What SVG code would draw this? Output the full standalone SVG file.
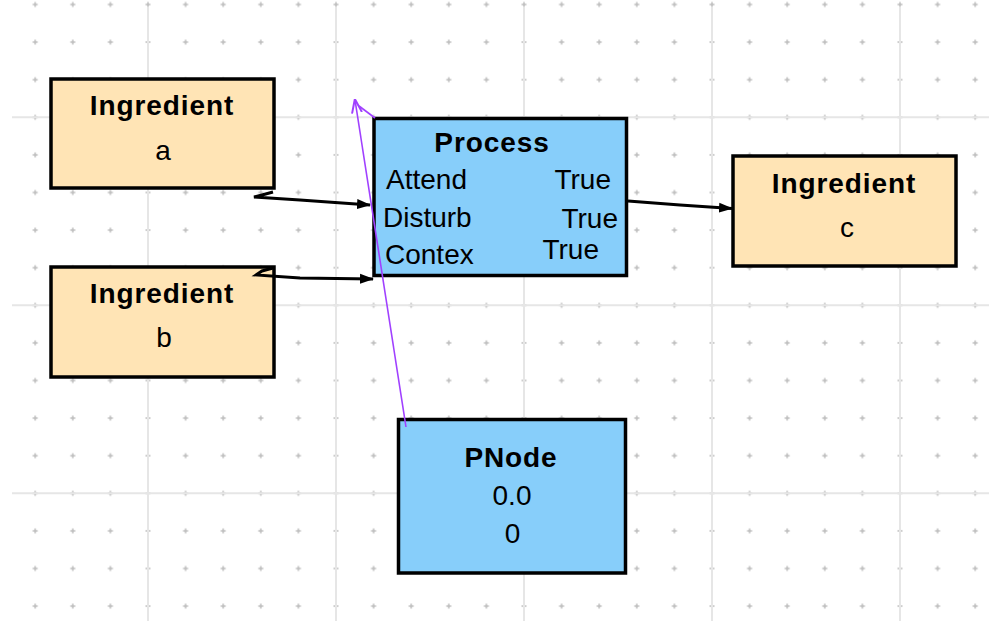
<svg xmlns="http://www.w3.org/2000/svg" width="989" height="621" viewBox="0 0 989 621">
<style>
.grid{stroke:#e6e6e6;stroke-width:2}
.ing rect{fill:#FFE4B5;stroke:#000;stroke-width:3.5}
.proc rect{fill:#87CEFA;stroke:#000;stroke-width:3.5}
text{font-family:"Liberation Sans",Arial,sans-serif;font-size:28px;fill:#000}
.b{font-weight:bold;letter-spacing:0.9px}
.c{text-anchor:middle}
.r{text-anchor:end}
.edge{stroke:#000;stroke-width:3;fill:none}
.pedge{stroke:#A040FF;stroke-width:1.6;fill:none}
</style>
<defs>
<pattern id="dots" patternUnits="userSpaceOnUse" x="35.2" y="4.5" width="37.6" height="37.6">
<path d="M-2.5 0H2.5M0 -2.5V2.5M35.1 0H40.1M37.6 -2.5V2.5M-2.5 37.6H2.5M0 35.1V40.1M35.1 37.6H40.1M37.6 35.1V40.1" stroke="#bdbdbd" stroke-width="1.5"/>
</pattern>
<marker id="ah" markerWidth="14" markerHeight="12" refX="13" refY="6" orient="auto" markerUnits="userSpaceOnUse">
<path d="M0 1L14 6L0 11Z" fill="#000"/>
</marker>
<marker id="ahp" markerWidth="14" markerHeight="12" refX="13" refY="6" orient="auto" markerUnits="userSpaceOnUse">
<path d="M0 1L14 6L0 11" fill="none" stroke="#A040FF" stroke-width="2"/>
</marker>
</defs>
<rect width="989" height="621" fill="#fff"/>
<g id="grid">
<rect x="12" y="0" width="977" height="621" fill="url(#dots)"/>
<path class="grid" d="M148 7V621M336 7V621M524 7V621M712 7V621M900 7V621M12 117.3H989M12 305.3H989M12 493.3H989"/>
</g>
<g id="ingredient-a" class="ing">
<rect x="51" y="79" width="223" height="109"/>
<text class="b c" x="162" y="115">Ingredient</text>
<text class="c" x="163" y="160">a</text>
</g>
<g id="ingredient-b" class="ing">
<rect x="51" y="267" width="223" height="110"/>
<text class="b c" x="162" y="303">Ingredient</text>
<text class="c" x="164" y="347">b</text>
</g>
<g id="process" class="proc">
<rect x="374" y="118.5" width="252.5" height="157"/>
<text class="b c" x="492" y="151.5">Process</text>
<text x="386" y="189">Attend</text>
<text class="r" x="611" y="189">True</text>
<text x="383" y="227">Disturb</text>
<text class="r" x="618" y="228">True</text>
<text x="385" y="264">Contex</text>
<text class="r" x="599" y="259">True</text>
</g>
<g id="ingredient-c" class="ing">
<rect x="733" y="156" width="223" height="110"/>
<text class="b c" x="844" y="192.5">Ingredient</text>
<text class="c" x="847" y="236.5">c</text>
</g>
<g id="pnode" class="proc">
<rect x="398.5" y="419.5" width="227" height="153.5"/>
<text class="b c" x="511" y="466.5">PNode</text>
<text class="c" x="512" y="505">0.0</text>
<text class="c" x="512.5" y="542.5">0</text>
</g>
<g id="connectors">
<path class="edge" d="M273 192L262 195L254 197L300 200L370 205" marker-end="url(#ah)"/>
<path class="edge" d="M273 268L262 271L256 275L300 278L373 279" marker-end="url(#ah)"/>
<path class="edge" d="M628 201L680 205L732 208.5" marker-end="url(#ah)"/>
<path class="pedge" d="M406 427L355 100" marker-end="url(#ahp)"/>
<path class="pedge" d="M359 106L375 118"/>
</g>
</svg>
